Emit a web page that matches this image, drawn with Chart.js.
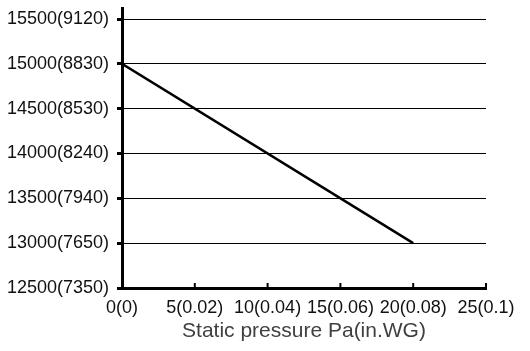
<!DOCTYPE html>
<html>
<head>
<meta charset="utf-8">
<script src="https://cdn.jsdelivr.net/npm/chart.js@4/dist/chart.umd.min.js"></script>
<style>
  html, body { margin: 0; padding: 0; background: #fff; }
  canvas { display: block; }
</style>
</head>
<body>
<canvas id="chart" width="530" height="351"></canvas>
<script>
// данные графика
const pressureX = [0, 20];
const airflowY = [15000, 13000];

const xTickValues = [0, 5, 10, 15, 20, 25];
const xTickLabels = [`0(0)`, `5(0.02)`, `10(0.04)`, `15(0.06)`, `20(0.08)`, `25(0.1)`];

const yTickValues = [12500, 13000, 13500, 14000, 14500, 15000, 15500];
const yTickLabels = [`12500(7350)`, `13000(7650)`, `13500(7940)`, `14000(8240)`, `14500(8530)`, `15000(8830)`, `15500(9120)`];

const xTitle = `Static pressure Pa(in.WG)`;

const FONT = `"Liberation Sans", Arial, sans-serif`;

// засечки оси X смотрят внутрь графика
const innerTicks = {
  id: `innerTicks`,
  afterDraw(chart) {
    const scale = chart.scales.x;
    const ctx = chart.ctx;
    const bottom = chart.chartArea.bottom;
    ctx.save();
    ctx.strokeStyle = `#000`;
    ctx.lineWidth = 2;
    scale.ticks.forEach((tick) => {
      const x = scale.getPixelForValue(tick.value);
      ctx.beginPath();
      ctx.moveTo(x, bottom);
      ctx.lineTo(x, bottom - 5);
      ctx.stroke();
    });
    ctx.restore();
  }
};

new Chart(document.getElementById(`chart`), {
  type: `line`,
  data: {
    datasets: [{
      data: pressureX.map((x, i) => ({x, y: airflowY[i]})),
      borderColor: `#000`,
      borderWidth: 2.5,
      pointRadius: 0,
      fill: false,
      tension: 0
    }]
  },
  options: {
    responsive: false,
    animation: false,
    devicePixelRatio: 1,
    layout: {
      padding: {top: 8, right: 44, left: 0, bottom: 0}
    },
    plugins: {
      legend: {display: false},
      tooltip: {enabled: false}
    },
    scales: {
      x: {
        type: `linear`,
        min: 0,
        max: 25,
        afterBuildTicks: (scale) => {
          scale.ticks = xTickValues.map((value) => ({value}));
        },
        afterFit: (scale) => {
          scale.height = 63;
          scale.paddingLeft = 0;
          scale.paddingRight = 0;
        },
        ticks: {
          callback: (value) => xTickLabels[xTickValues.indexOf(value)],
          color: `#111`,
          font: {family: FONT, size: 18},
          padding: 9,
          maxRotation: 0,
          autoSkip: false
        },
        grid: {
          drawOnChartArea: false,
          drawTicks: false
        },
        border: {
          color: `#000`,
          width: 3
        },
        title: {
          display: true,
          text: xTitle,
          color: `#404040`,
          font: {family: FONT, size: 21},
          padding: {top: 0, bottom: 7}
        }
      },
      y: {
        type: `linear`,
        min: 12500,
        max: 15623,
        afterBuildTicks: (scale) => {
          scale.ticks = yTickValues.map((value) => ({value}));
        },
        afterFit: (scale) => {
          scale.width = 122;
          scale.paddingTop = 0;
          scale.paddingBottom = 0;
        },
        ticks: {
          callback: (value) => yTickLabels[yTickValues.indexOf(value)],
          color: `#111`,
          font: {family: FONT, size: 18},
          padding: 8,
          autoSkip: false
        },
        grid: {
          color: `#000`,
          lineWidth: 1,
          tickLength: 5,
          tickWidth: 3,
          tickColor: `#000`
        },
        border: {
          color: `#000`,
          width: 3
        }
      }
    }
  },
  plugins: [innerTicks]
});
</script>
</body>
</html>
